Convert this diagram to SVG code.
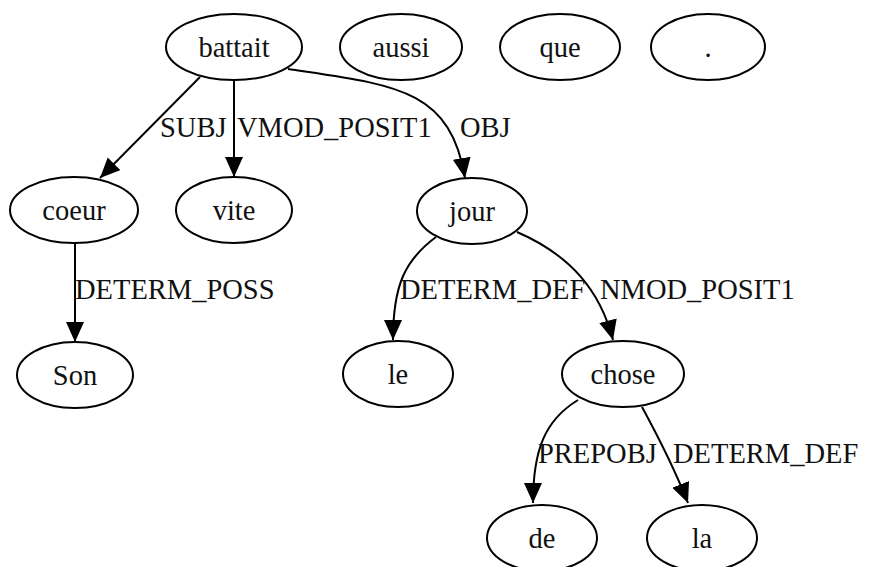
<svg xmlns="http://www.w3.org/2000/svg" width="880" height="567" viewBox="0 0 880 567">
<style>
ellipse{fill:none;stroke:#000;stroke-width:2}
text{font-family:"Liberation Serif","Times New Roman",serif;font-size:28.5px;fill:#111}
.n text{text-anchor:middle}
.e path{fill:none;stroke:#000;stroke-width:2;marker-end:url(#ah)}
</style>
<defs>
<marker id="ah" markerUnits="userSpaceOnUse" markerWidth="22" markerHeight="20" refX="20" refY="9" orient="auto" viewBox="0 0 22 20">
<path d="M0,0 L20,9 L0,18 Z" fill="#000"/>
</marker>
</defs>
<rect width="880" height="567" fill="#fff"/>
<g id="nodes" class="n">
<g id="battait"><ellipse cx="234" cy="47" rx="68" ry="33"/><text x="234" y="57">battait</text></g>
<g id="aussi"><ellipse cx="401" cy="47" rx="61" ry="33"/><text x="401" y="57">aussi</text></g>
<g id="que"><ellipse cx="560" cy="47" rx="60" ry="33"/><text x="560" y="57">que</text></g>
<g id="dot"><ellipse cx="708" cy="47" rx="57" ry="33"/><text x="708" y="57">.</text></g>
<g id="coeur"><ellipse cx="74" cy="210" rx="64" ry="33"/><text x="74" y="220">coeur</text></g>
<g id="vite"><ellipse cx="234" cy="210" rx="58" ry="33"/><text x="234" y="220">vite</text></g>
<g id="jour"><ellipse cx="472" cy="211" rx="55" ry="33"/><text x="472" y="221">jour</text></g>
<g id="Son"><ellipse cx="75" cy="375" rx="58" ry="33"/><text x="75" y="385">Son</text></g>
<g id="le"><ellipse cx="398" cy="374" rx="55" ry="33"/><text x="398" y="384">le</text></g>
<g id="chose"><ellipse cx="623" cy="374" rx="61" ry="33"/><text x="623" y="384">chose</text></g>
<g id="de"><ellipse cx="542" cy="538" rx="55" ry="33"/><text x="542" y="548">de</text></g>
<g id="la"><ellipse cx="702" cy="538" rx="55" ry="33"/><text x="702" y="548">la</text></g>
</g>
<g id="edges" class="e">
<path d="M200,77 L100,178"/>
<path d="M234,80 L234,177"/>
<path d="M288,69 C395,85 450,88 465,178"/>
<path d="M436,237 C405,260 393,285 393,340"/>
<path d="M517,232 C570,255 600,290 613,340"/>
<path d="M578,400 C545,420 533,450 533,503"/>
<path d="M642,407 C660,440 675,470 688,503"/>
<path d="M75,243 L75,342"/>
</g>
<g id="labels">
<text x="160" y="137">SUBJ</text>
<text x="237" y="137">VMOD_POSIT1</text>
<text x="460" y="137">OBJ</text>
<text x="75" y="299">DETERM_POSS</text>
<text x="400" y="299">DETERM_DEF</text>
<text x="600" y="299">NMOD_POSIT1</text>
<text x="538" y="463">PREPOBJ</text>
<text x="673" y="463">DETERM_DEF</text>
</g>
</svg>
